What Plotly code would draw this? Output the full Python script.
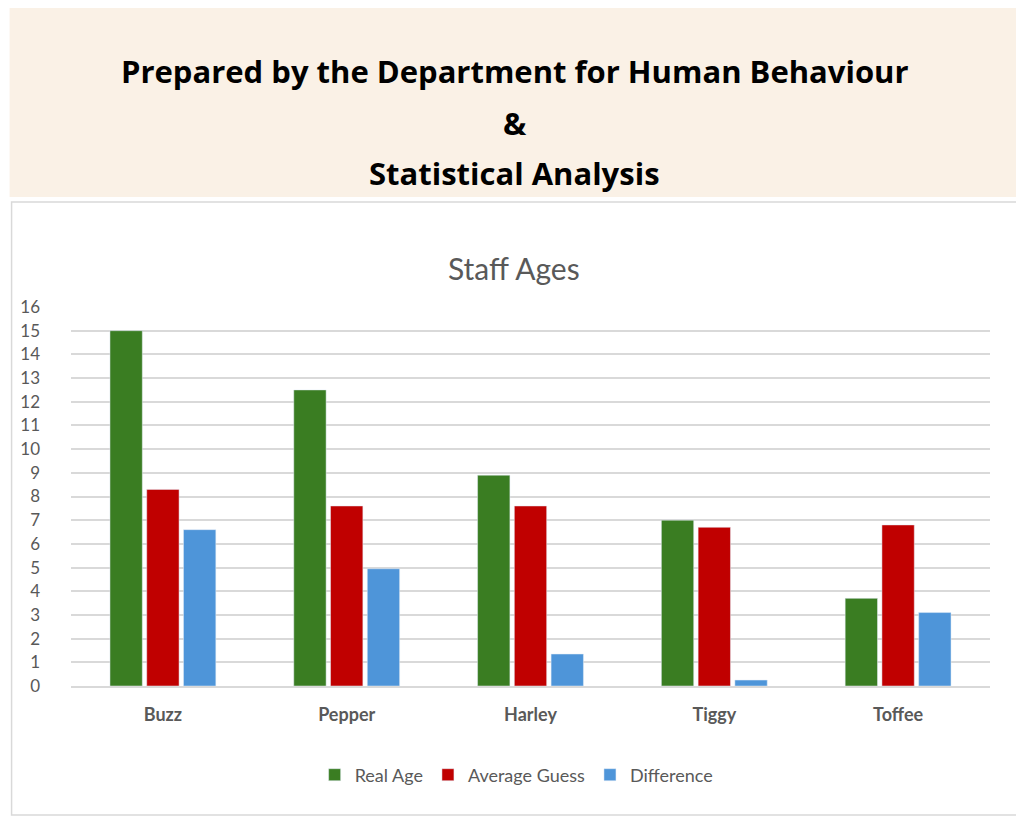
import plotly.graph_objects as go

categories = ["Buzz", "Pepper", "Harley", "Tiggy", "Toffee"]
real_age = [15, 12.5, 8.9, 7.0, 3.7]
avg_guess = [8.3, 7.6, 7.6, 6.7, 6.8]
difference = [6.6, 4.95, 1.35, 0.25, 3.1]
y_ticks = list(range(0, 17))

fig = go.Figure()
for name, vals, col in [("Real Age", real_age, "#3a7d22"),
                        ("Average Guess", avg_guess, "#c00000"),
                        ("Difference", difference, "#4e95d9")]:
    fig.add_bar(x=categories, y=vals, name=name, marker_color=col)

OFF = 8  # page offset
L, T, R, B = 62 - OFF, 307 - OFF, 34 + OFF, 133 + OFF
pw, ph = 1024 - L - R, 819 - T - B
def xp(x): return (x - OFF - L) / pw
def yp(y): return (819 - B - (y - OFF)) / ph

fig.update_layout(
    width=1024, height=819,
    paper_bgcolor="white", plot_bgcolor="white",
    margin=dict(l=L, r=R, t=T, b=B),
    barmode="group", bargap=0.4, bargroupgap=0.12,
    font=dict(family="Lato, sans-serif", color="#595959"),
    showlegend=True,
    legend=dict(orientation="h", x=xp(512), xanchor="center", y=yp(775), yref="paper",
                yanchor="middle", font=dict(size=18, color="#595959")),
    xaxis=dict(showgrid=False, showline=True, linecolor="#d9d9d9", linewidth=1.5,
               tickfont=dict(size=18, color="#595959", family="Lato, sans-serif", weight="bold"),
               ticks="", ticklabelstandoff=12),
    yaxis=dict(range=[0, 16], tickvals=y_ticks, gridcolor="#d9d9d9", gridwidth=1.5,
               tickfont=dict(size=17, color="#595959"), zeroline=False, ticklabelstandoff=30),
)
fig.add_shape(type="rect", xref="paper", yref="paper", x0=xp(0), x1=xp(1040), y0=yp(197), y1=yp(0),
              fillcolor="#faf1e6", line_width=0, layer="below")
fig.add_shape(type="rect", xref="paper", yref="paper", x0=xp(2), x1=xp(1020), y0=yp(815), y1=yp(202),
              line=dict(color="#d9d9d9", width=1.5), fillcolor="rgba(0,0,0,0)", layer="below")

for text, y in [("Prepared by the Department for Human Behaviour", 48), ("&", 100),
                ("Statistical Analysis", 150)]:
    fig.add_annotation(text=f"<b>{text}</b>", xref="paper", yref="paper", x=xp(510), y=yp(y),
                       showarrow=False, font=dict(size=31, color="black", family="Open Sans, sans-serif"))
fig.add_annotation(text="Staff Ages", xref="paper", yref="paper", x=xp(509), y=yp(248),
                   showarrow=False, font=dict(size=30, color="#595959", family="Lato, sans-serif"))

fig.write_html("out.html")
